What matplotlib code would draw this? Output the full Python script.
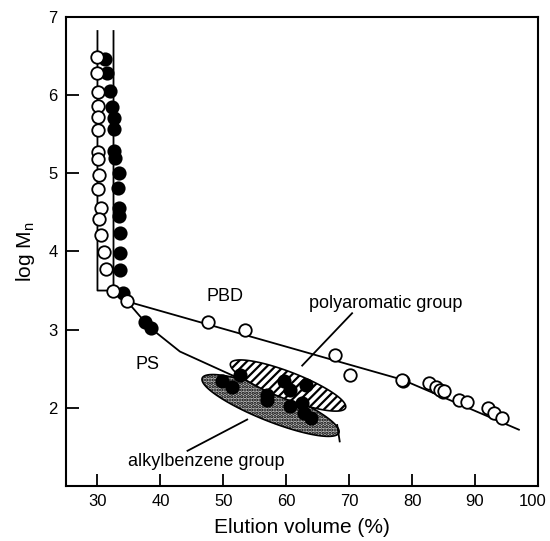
import numpy as np
import matplotlib
matplotlib.use('Agg')
from matplotlib import pyplot as plt
from matplotlib.patches import Polygon
from matplotlib.transforms import ScaledTranslation

plt.rcParams['font.family'] = ['Liberation Sans', 'DejaVu Sans']
plt.rcParams['mathtext.fontset'] = 'custom'
plt.rcParams['mathtext.rm'] = 'Liberation Sans'
plt.rcParams['hatch.linewidth'] = 1.6

# PBD (open circles)
pbd_x = [29.9, 29.9, 30.1, 30.1, 30.1, 30.1, 30.1, 30.1, 30.2, 30.15, 30.5, 30.3, 30.5, 31.1, 31.4,
         32.5, 34.73, 47.5, 53.5, 67.8, 70.2, 78.4, 82.7, 83.8, 84.5, 85.0, 87.4, 88.8, 92.0, 93.0, 94.35]
pbd_y = [6.49, 6.28, 6.04, 5.86, 5.72, 5.55, 5.27, 5.18, 4.98, 4.80, 4.56, 4.42, 4.21, 3.99, 3.78,
         3.50, 3.36, 3.10, 3.00, 2.68, 2.42, 2.36, 2.32, 2.26, 2.23, 2.21, 2.10, 2.08, 2.00, 1.93, 1.87]
# PS (filled circles)
ps_x = [31.27, 31.54, 32.07, 32.34, 32.59, 32.59, 32.59, 32.75, 33.39, 33.23, 33.5, 33.5, 33.66, 33.66, 33.66,
        34.08, 37.52, 38.43,
        49.83, 51.41, 52.73, 56.98, 56.98, 59.62, 60.68, 63.07, 60.68, 62.54, 62.8, 63.86, 78.5, 84.9]
ps_y = [6.46, 6.28, 6.05, 5.85, 5.71, 5.57, 5.28, 5.20, 5.00, 4.81, 4.55, 4.45, 4.23, 3.98, 3.76,
        3.47, 3.10, 3.02,
        2.34, 2.27, 2.42, 2.17, 2.10, 2.34, 2.23, 2.29, 2.02, 2.06, 1.93, 1.87, 2.34, 2.20]

# calibration curves
pbd_lx = [30.0, 30.0, 32.5, 34.73, 78.44, 96.98]
pbd_ly = [6.82, 3.50, 3.50, 3.36, 2.36, 1.72]
ps_lx = [32.55, 32.55, 34.08, 34.73, 37.52, 38.43, 43.1, 51.84]
ps_ly = [6.82, 3.55, 3.47, 3.36, 3.10, 3.02, 2.72, 2.40]

# group regions: tips (data) and half thickness (px)
poly_tips = [(51.15, 2.57), (69.43, 2.0)]
alkyl_tips = [(46.65, 2.38), (68.37, 1.68)]
alkyl_cut = ([68.1, 68.5], [1.78, 1.57])


def blob(ax, tips, half, **kw):
    p0, p1 = ax.transData.transform(tips)
    c = (p0 + p1) / 2; a = (p1 - p0) / 2
    b = np.array([-a[1], a[0]]) / np.hypot(*a) * half
    t = np.linspace(0, 2 * np.pi, 300)
    pts = c + np.outer(np.cos(t), a) + np.outer(np.sin(t), b)
    ax.add_patch(Polygon(ax.transData.inverted().transform(pts), closed=True, **kw))


fig = plt.figure(figsize=(5.5, 5.41), dpi=100)
ax = fig.add_axes([0.12, 0.1017, 0.858, 0.867])
ax.set_xlim(25, 100)
ax.set_ylim(1, 7)

ax.plot(pbd_lx, pbd_ly, color='k', lw=1.3, zorder=1)
ax.plot(ps_lx, ps_ly, color='k', lw=1.3, zorder=1)

blob(ax, alkyl_tips, 15.5, facecolor='#bdbdbd', edgecolor='k', hatch='.....', lw=1.2, zorder=2)
ax.plot(*alkyl_cut, color='k', lw=1.3, zorder=2)
blob(ax, poly_tips, 13.5, facecolor='white', edgecolor='k', hatch='////', lw=1.2, zorder=3)

ax.plot(ps_x, ps_y, 'o', ms=9, mfc='k', mec='k', mew=1.2, zorder=4)
ax.plot(pbd_x, pbd_y, 'o', ms=9, mfc='white', mec='k', mew=1.3, zorder=5)

# leaders and labels
ax.plot([70.47, 62.54], [3.21, 2.54], color='k', lw=1.3, zorder=6)
ax.plot([44.31, 53.8], [1.45, 1.85], color='k', lw=1.3, zorder=6)
ax.text(75.8, 3.34, 'polyaromatic group', fontsize=13, ha='center', va='center')
ax.text(47.3, 1.31, 'alkylbenzene group', fontsize=13, ha='center', va='center')
ax.text(50.25, 3.42, 'PBD', fontsize=13, ha='center', va='center')
ax.text(37.9, 2.55, 'PS', fontsize=13, ha='center', va='center')

ax.set_xticks(np.arange(30, 101, 10))
ax.set_yticks(np.arange(2, 8, 1))
ax.tick_params(direction='in', length=9, width=1.3, labelsize=12, pad=6)
last = ax.get_xticklabels()[-1]
last.set_transform(last.get_transform() + ScaledTranslation(-4 / 72, 0, fig.dpi_scale_trans))
for s in ax.spines.values():
    s.set_linewidth(1.5)
ax.set_xlabel('Elution volume (%)', fontsize=15, labelpad=6)
ax.set_ylabel(r'log M$_\mathrm{n}$', fontsize=15, labelpad=8)

plt.savefig('out.png', dpi=100)
